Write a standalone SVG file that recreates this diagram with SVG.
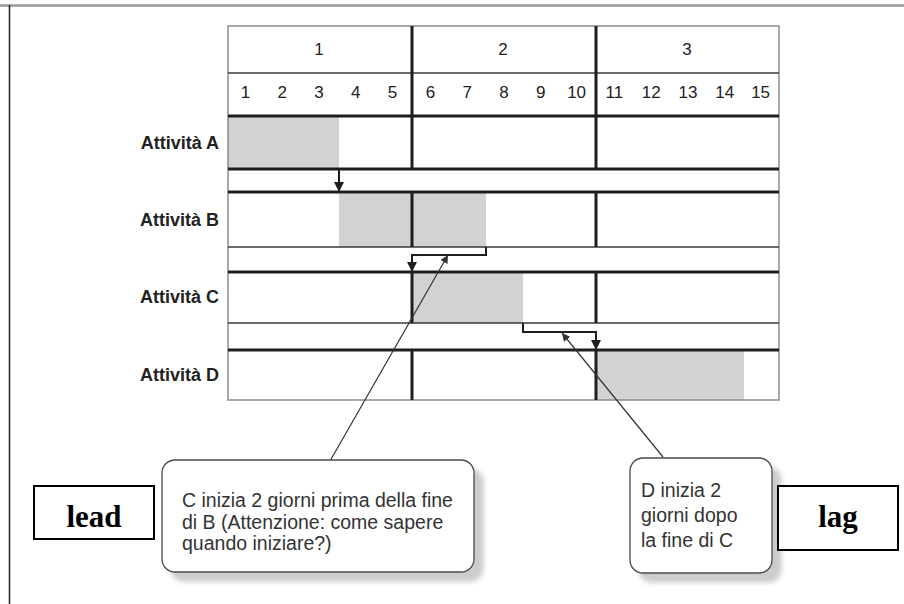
<svg xmlns="http://www.w3.org/2000/svg" width="904" height="604" viewBox="0 0 904 604">
  <style>
    .frame-top { stroke: #9a9a9a; stroke-width: 2.5; fill: none; }
    .frame-left { stroke: #222; stroke-width: 1.5; fill: none; }
    .border { stroke: #8c8c8c; stroke-width: 1.5; fill: none; }
    .thin { stroke: #3a3a3a; stroke-width: 1.5; fill: none; }
    .thick { stroke: #1e1e1e; stroke-width: 3; fill: none; }
    .bar { fill: #d1d2d4; stroke: none; }
    .hdr { font-family: "Liberation Sans", Arial, sans-serif; font-size: 17px; fill: #222; text-anchor: middle; }
    .act { font-family: "Liberation Sans", Arial, sans-serif; font-size: 18px; font-weight: bold; fill: #222; text-anchor: end; }
    .link { stroke: #1e1e1e; stroke-width: 2; fill: none; }
    .leader { stroke: #333; stroke-width: 1.2; fill: none; }
    .callout { fill: #fff; stroke: #4a4a4a; stroke-width: 1.3; }
    .note { font-family: "Liberation Sans", Arial, sans-serif; font-size: 19.5px; fill: #333; }
    .tag-box { fill: #fff; stroke: #000; stroke-width: 2; }
    .tag { font-family: "Liberation Serif", "Times New Roman", serif; font-size: 31px; font-weight: bold; fill: #000; text-anchor: middle; }
  </style>
  <defs>
    <marker id="arrow" viewBox="0 0 10 10" refX="10" refY="5" markerWidth="10" markerHeight="10" markerUnits="userSpaceOnUse" orient="auto">
      <path d="M0,0 L10,5 L0,10 z" fill="#1e1e1e"/>
    </marker>
    <marker id="arrow-thin" viewBox="0 0 10 10" refX="10" refY="5" markerWidth="11" markerHeight="8" markerUnits="userSpaceOnUse" orient="auto">
      <path d="M0,0 L10,5 L0,10 z" fill="#333"/>
    </marker>
    <filter id="shadow" x="-10%" y="-10%" width="130%" height="130%">
      <feGaussianBlur in="SourceAlpha" stdDeviation="2.5"/>
      <feOffset dx="9" dy="9" result="off"/>
      <feFlood flood-color="#000" flood-opacity="0.2"/>
      <feComposite in2="off" operator="in"/>
      <feMerge>
        <feMergeNode/>
        <feMergeNode in="SourceGraphic"/>
      </feMerge>
    </filter>
  </defs>

  <!-- page frame -->
  <line class="frame-top" x1="0" y1="5.5" x2="904" y2="5.5"/>
  <line class="frame-left" x1="9.5" y1="5" x2="9.5" y2="604"/>

  <!-- Gantt grid -->
  <g id="grid">
    <!-- activity bars -->
    <rect class="bar" x="228" y="116" width="111" height="53"/>
    <rect class="bar" x="339" y="192" width="147" height="55"/>
    <rect class="bar" x="412" y="272" width="111" height="51"/>
    <rect class="bar" x="596" y="350" width="148" height="50"/>

    <!-- outer border -->
    <rect class="border" x="228" y="26" width="551" height="374"/>

    <!-- horizontal rules -->
    <line class="thin" x1="228" y1="73" x2="779" y2="73"/>
    <line class="thick" x1="228" y1="116" x2="779" y2="116"/>
    <line class="thick" x1="228" y1="169" x2="779" y2="169"/>
    <line class="thick" x1="228" y1="192" x2="779" y2="192"/>
    <line class="thin" x1="228" y1="247" x2="779" y2="247"/>
    <line class="thick" x1="228" y1="272" x2="779" y2="272"/>
    <line class="thin" x1="228" y1="323" x2="779" y2="323"/>
    <line class="thick" x1="228" y1="350" x2="779" y2="350"/>

    <!-- period separators (only inside header and activity rows) -->
    <path class="thick" d="M412,26 V116 M596,26 V116"/>
    <path class="thick" d="M412,116 V169 M596,116 V169"/>
    <path class="thick" d="M412,192 V247 M596,192 V247"/>
    <path class="thick" d="M412,272 V323 M596,272 V323"/>
    <path class="thick" d="M412,350 V400 M596,350 V400"/>

    <!-- period headings -->
    <text class="hdr" x="319" y="55">1</text>
    <text class="hdr" x="503" y="55">2</text>
    <text class="hdr" x="687" y="55">3</text>

    <!-- day numbers -->
    <text class="hdr" x="245.4" y="98">1</text>
    <text class="hdr" x="282.2" y="98">2</text>
    <text class="hdr" x="319" y="98">3</text>
    <text class="hdr" x="355.8" y="98">4</text>
    <text class="hdr" x="392.6" y="98">5</text>
    <text class="hdr" x="430.4" y="98">6</text>
    <text class="hdr" x="467.2" y="98">7</text>
    <text class="hdr" x="504" y="98">8</text>
    <text class="hdr" x="540.8" y="98">9</text>
    <text class="hdr" x="576.6" y="98">10</text>
    <text class="hdr" x="614.4" y="98">11</text>
    <text class="hdr" x="651.2" y="98">12</text>
    <text class="hdr" x="688" y="98">13</text>
    <text class="hdr" x="724.8" y="98">14</text>
    <text class="hdr" x="760.6" y="98">15</text>
  </g>

  <!-- activity rows -->
  <g id="activity-a"><text class="act" x="219" y="149">Attività A</text></g>
  <g id="activity-b"><text class="act" x="219" y="226">Attività B</text></g>
  <g id="activity-c"><text class="act" x="219" y="303">Attività C</text></g>
  <g id="activity-d"><text class="act" x="219" y="381">Attività D</text></g>

  <!-- dependency links and leader lines -->
  <g id="connectors">
    <path class="link" d="M339,169 V192" marker-end="url(#arrow)"/>
    <path class="link" d="M486,247 V255 H412 V272" marker-end="url(#arrow)"/>
    <path class="link" d="M523,323 V332 H596 V350" marker-end="url(#arrow)"/>
    <path class="leader" d="M330,461 L448,255" marker-end="url(#arrow-thin)"/>
    <path class="leader" d="M663,457 L562,333" marker-end="url(#arrow-thin)"/>
  </g>

  <!-- lead note -->
  <g id="note-lead">
    <rect class="callout" x="162" y="460" width="312" height="112" rx="13" filter="url(#shadow)"/>
    <text class="note" x="182" y="507">C inizia 2 giorni prima della fine</text>
    <text class="note" x="182" y="529">di B (Attenzione: come sapere</text>
    <text class="note" x="182" y="550">quando iniziare?)</text>
  </g>

  <!-- lag note -->
  <g id="note-lag">
    <rect class="callout" x="630" y="458" width="142" height="115" rx="13" filter="url(#shadow)"/>
    <text class="note" x="641" y="497">D inizia 2</text>
    <text class="note" x="641" y="521.5">giorni dopo</text>
    <text class="note" x="641" y="546.5">la fine di C</text>
  </g>

  <!-- tags -->
  <g id="tag-lead">
    <rect class="tag-box" x="34" y="486" width="120" height="53"/>
    <text class="tag" x="94" y="527">lead</text>
  </g>
  <g id="tag-lag">
    <rect class="tag-box" x="778" y="486" width="120" height="64"/>
    <text class="tag" x="838" y="527">lag</text>
  </g>
</svg>
